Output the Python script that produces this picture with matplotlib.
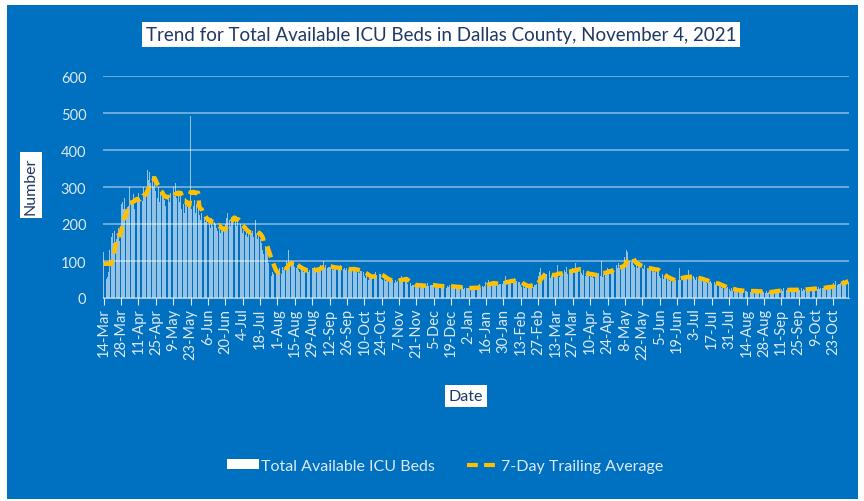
import matplotlib.pyplot as plt
import numpy as np
import pandas as pd
from matplotlib.patches import Rectangle
from matplotlib.lines import Line2D

# Daily total available ICU beds, Dallas County, starting 14-Mar-2020
start_date = '2020-03-14'
beds_spring_2020 = [124, 48, 52, 58, 70, 130, 165,
                    175, 150, 182, 160, 170, 190, 155,
                    255, 260, 240, 270, 230, 245, 250,
                    300, 265, 255, 280, 240, 275, 260,
                    285, 270, 290, 262, 300, 275, 280,
                    345, 320, 340, 310, 330, 300, 325,
                    290, 270, 300, 260, 285, 275, 280,
                    265, 250, 290, 270, 260, 285, 270,
                    300, 275, 310, 270, 285, 260, 290,
                    240, 255, 230, 270, 250, 245, 260,
                    492, 240, 250, 265, 230, 255, 260,
                    225, 210, 230, 200, 220, 205, 215,
                    200, 210, 190, 215, 195, 205, 200]
beds_summer_2020 = [190, 180, 195, 175, 185, 190, 180,
                    200, 215, 230, 210, 195, 220, 205,
                    245, 210, 195, 220, 185, 200, 190,
                    175, 185, 170, 190, 165, 180, 170,
                    175, 180, 165, 210, 170, 160, 175,
                    160, 150, 130, 120, 140, 135, 125,
                    95, 80, 60, 70, 65, 75, 70,
                    70, 75, 80, 65, 85, 75, 80,
                    100, 90, 130, 85, 95, 90, 100,
                    85, 80, 90, 75, 70, 80, 85,
                    70, 75, 65, 80, 70, 75, 68,
                    80, 75, 85, 70, 82, 78, 80,
                    90, 85, 100, 80, 88, 82, 85]
beds_fall_2020 = [85, 80, 90, 75, 82, 80, 84,
                  80, 75, 90, 72, 78, 80, 76,
                  80, 75, 85, 72, 78, 82, 76,
                  75, 70, 80, 68, 72, 74, 70,
                  60, 55, 65, 50, 58, 56, 55,
                  65, 60, 70, 62, 68, 64, 66,
                  52, 48, 55, 45, 50, 52, 48,
                  45, 42, 50, 40, 48, 44, 46,
                  55, 50, 60, 45, 48, 52, 50,
                  38, 35, 40, 32, 36, 34, 35,
                  35, 30, 38, 32, 34, 30, 33,
                  36, 33, 40, 32, 35, 34, 36,
                  34, 30, 35, 28, 33, 32, 32]
beds_winter_2021 = [32, 30, 36, 28, 33, 31, 34,
                    30, 28, 34, 26, 31, 30, 31,
                    28, 25, 30, 24, 27, 28, 27,
                    28, 25, 32, 24, 27, 26, 27,
                    32, 30, 38, 28, 33, 31, 32,
                    42, 38, 48, 36, 40, 38, 40,
                    40, 36, 42, 34, 38, 37, 39,
                    45, 42, 60, 40, 44, 43, 46,
                    48, 42, 55, 40, 45, 42, 44,
                    35, 30, 38, 28, 32, 30, 33,
                    36, 32, 40, 30, 35, 36, 37,
                    60, 70, 80, 55, 65, 68, 62,
                    65, 58, 72, 55, 60, 62, 63]
beds_spring_2021 = [68, 60, 90, 58, 65, 62, 64,
                    75, 70, 85, 65, 72, 70, 73,
                    80, 72, 95, 70, 76, 74, 78,
                    68, 62, 75, 60, 65, 63, 66,
                    65, 58, 70, 55, 62, 60, 64,
                    68, 60, 100, 58, 64, 62, 66,
                    80, 75, 88, 72, 78, 76, 80,
                    88, 82, 95, 80, 85, 84, 86,
                    110, 130, 125, 95, 100, 98, 105,
                    90, 85, 95, 82, 88, 86, 90,
                    82, 78, 88, 75, 80, 79, 81,
                    78, 72, 85, 70, 76, 75, 77,
                    60, 55, 65, 52, 58, 57, 59]
beds_summer_fall_2021 = [48, 45, 52, 42, 47, 46, 48,
                         55, 50, 80, 48, 52, 50, 53,
                         60, 55, 75, 52, 58, 56, 59,
                         54, 50, 58, 48, 52, 51, 53,
                         46, 42, 50, 40, 45, 44, 46,
                         40, 36, 44, 34, 38, 37, 39,
                         30, 26, 32, 25, 28, 27, 29,
                         24, 20, 26, 19, 22, 21, 22,
                         20, 18, 22, 17, 19, 18, 19,
                         20, 17, 22, 16, 19, 18, 20,
                         19, 16, 21, 15, 18, 17, 18,
                         17, 14, 19, 13, 16, 16, 17,
                         21, 18, 24, 17, 20, 19, 21,
                         23, 20, 26, 19, 22, 21, 23,
                         23, 20, 26, 19, 22, 21, 23,
                         24, 21, 27, 20, 23, 22, 24,
                         26, 23, 29, 22, 25, 24, 26,
                         28, 25, 31, 24, 27, 26, 28,
                         32, 28, 34, 27, 30, 29, 31,
                         40, 36, 45, 34, 38, 37, 40,
                         45, 50, 40, 42, 55, 44]
y_ticks = [0, 100, 200, 300, 400, 500, 600]

BLUE = '#0070c0'
LIGHT = '#dde8f4'
NAVY = '#1f3864'

beds = np.array(beds_spring_2020 + beds_summer_2020 + beds_fall_2020 +
                beds_winter_2021 + beds_spring_2021 + beds_summer_fall_2021)
dates = pd.date_range(start_date, periods=len(beds), freq='D')
days = np.arange(len(beds))
avg = pd.Series(beds).rolling(7).mean().bfill().values

plt.rcParams['font.family'] = ['Lato', 'DejaVu Sans']
fig = plt.figure(figsize=(8.64, 5.02), dpi=100, facecolor='white')
fig.patches.append(Rectangle((7/864, 2/502), 851/864, 494/502,
                             transform=fig.transFigure, facecolor=BLUE,
                             edgecolor='none', zorder=-10))

ax = fig.add_axes([103/864, (502-299)/502, 746/864, 222/502])
ax.set_zorder(2)
ax.set_facecolor('none')
ax.bar(days, beds, width=0.75, color='white', alpha=0.58, linewidth=0, zorder=2)
ax.plot(days, avg, color='#ffc000', lw=3.2, dashes=(2.6, 1.5),
        solid_capstyle='round', dash_capstyle='butt', zorder=3)

ax.set_xlim(-0.6, len(beds) - 0.4)
ax.set_ylim(0, 600)
ax.set_yticks(y_ticks)
ax.yaxis.grid(True, color='white', alpha=0.45, lw=1.3, zorder=1)
ax.set_axisbelow(True)

tick_days = days[::14]
ax.set_xticks(tick_days)
ax.set_xticklabels([f'{d.day}-{d.strftime("%b")}' for d in dates[::14]],
                   rotation=90)
ax.tick_params(axis='x', colors=LIGHT, length=5, width=0.8, labelsize=10.5, pad=2)
ax.tick_params(axis='y', colors=LIGHT, length=0, labelsize=10.5, pad=12)
for s in ['top', 'right', 'left']:
    ax.spines[s].set_visible(False)
ax.spines['bottom'].set_color(LIGHT)
ax.spines['bottom'].set_alpha(0.7)

box = dict(facecolor='white', edgecolor='none', pad=3)
fig.text(441/864, 0.93, 'Trend for Total Available ICU Beds in Dallas County, November 4, 2021',
         ha='center', va='center', fontsize=13.5, color=NAVY, bbox=box)
fig.text(31/864, 1 - 186/502, 'Number', rotation=90, ha='center', va='center',
         fontsize=11.5, color=NAVY, bbox=box)
fig.text(466/864, 1 - 397/502, 'Date', ha='center', va='center',
         fontsize=11.5, color=NAVY, bbox=box)

handles = [Rectangle((0, 0), 1, 1, facecolor='white', edgecolor='none'),
           Line2D([], [], color='#ffc000', lw=3, dashes=(2.6, 1.5))]
leg = fig.legend(handles, ['Total Available ICU Beds', '7-Day Trailing Average'],
                 loc='center', bbox_to_anchor=(445/864, 1 - 467/502), ncol=2,
                 frameon=False, fontsize=11.5, handlelength=2.0, handleheight=0.6,
                 handletextpad=0.15, columnspacing=2.0)
for t in leg.get_texts():
    t.set_color(LIGHT)

fig.savefig('out.png', dpi=100, facecolor='white')
